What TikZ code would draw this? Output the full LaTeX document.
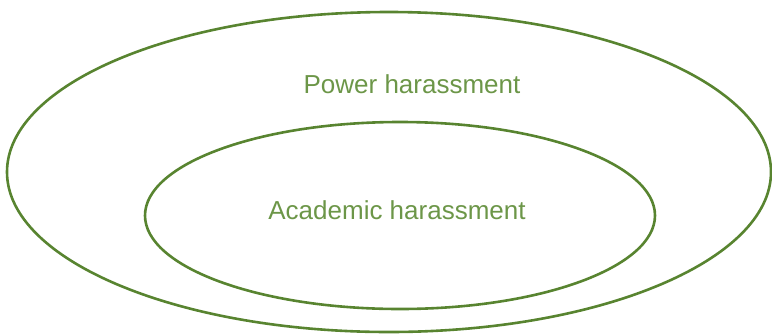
\documentclass[tikz,border=0pt]{standalone}
\usepackage{fontspec}
\setmainfont{Liberation Sans}
\usetikzlibrary{positioning}

\definecolor{ringgreen}{RGB}{88,132,48}
\definecolor{labelgreen}{RGB}{108,150,72}

\begin{document}
\begin{tikzpicture}[x=1pt, y=-1pt,
		ring/.style = {draw = ringgreen, line width = 2.6pt},
		label/.style = {text = labelgreen, font = \fontsize{26}{30}\selectfont, inner sep = 0pt}]
	\useasboundingbox (0, 0) rectangle (772, 333);
	\draw[ring] (389, 172) ellipse (382 and 160);
	\draw[ring] (400, 215.5) ellipse (255 and 93.5);
	\node[label] (power) at (412, 84) {Power harassment};
	\node[label] (academic) at (397, 210) {Academic harassment};
\end{tikzpicture}
\end{document}
